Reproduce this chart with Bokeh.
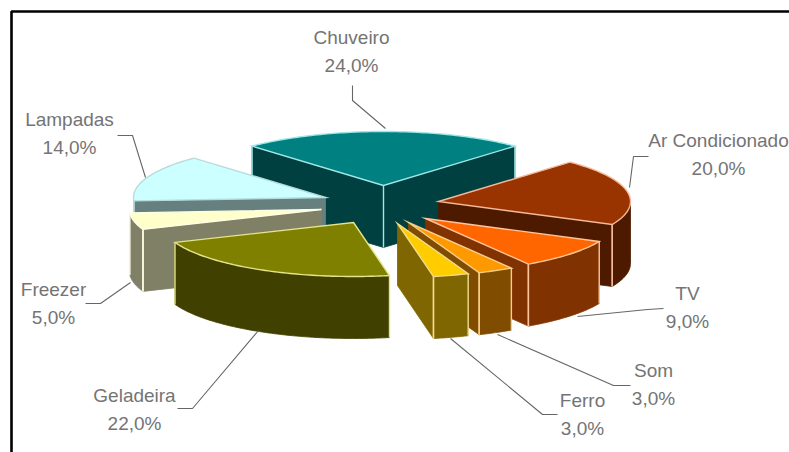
import numpy as np
from bokeh.core.properties import value
from bokeh.embed import file_html
from bokeh.models import ColumnDataSource
from bokeh.plotting import figure
from bokeh.resources import INLINE

# Household electricity use by appliance (percent)
categories = ["Chuveiro", "Ar Condicionado", "TV", "Som", "Ferro", "Geladeira", "Freezer", "Lampadas"]
shares = [24.0, 20.0, 9.0, 3.0, 3.0, 22.0, 5.0, 14.0]

top_colors = ["#008080", "#993300", "#FF6600", "#FF9900", "#FFCC00", "#808000", "#FFFFCC", "#CCFFFF"]
side_colors = ["#004040", "#4D1A00", "#803300", "#804D00", "#806600", "#404000", "#808066", "#668080"]
edge_colors = ["#9FE6E6", "#F4B89A", "#FFC49A", "#F6CE8C", "#F2DC8C", "#E4E48A", "#FFFFE6", "#B8DCDC"]

# Where each exploded slice has its tip on the page
tip_x = [383, 438, 425, 408, 397, 353, 321, 325]
tip_y = [185, 201, 218, 222, 223, 222, 209, 197]

# Painter's order: slices further back are drawn first
draw_order = [0, 7, 6, 1, 2, 3, 4, 5]

# Label centres, line spacing and leader paths, in page pixels
label_x = [351, 718, 687, 653, 582, 134, 53, 69]
label_y = [37, 140, 293, 370, 400, 395, 289, 119]
line_gap = 28
leader_x = [[352, 352, 385], [648, 633, 629], [663, 647, 577], [630, 613, 497],
            [557, 542, 450], [177, 192, 258], [85, 100, 130], [117, 132, 145]]
leader_y = [[85, 100, 128], [156, 156, 187], [308, 309, 316], [385, 385, 334],
            [414, 414, 338], [408, 408, 330], [303, 303, 282], [135, 135, 177]]

RADIUS_X = 192
RADIUS_Y = 54
DEPTH = 62
WIDTH, HEIGHT = 789, 452


def rim(cx, cy, a0, a1):
    """Points on the tilted rim between two clockwise angles, in degrees from the top."""
    steps = max(2, int(abs(a1 - a0)) + 1)
    t = np.radians(np.linspace(a0, a1, steps))
    return cx + RADIUS_X * np.sin(t), cy - RADIUS_Y * np.cos(t)


p = figure(width=WIDTH, height=HEIGHT, x_range=(0, WIDTH), y_range=(HEIGHT, 0),
           output_backend="svg", toolbar_location=None, min_border=0,
           background_fill_color="white", border_fill_color="white", outline_line_color=None)
p.axis.visible = False
p.grid.visible = False

# Frame along the top and left of the chart area
p.line([11, 11, WIDTH], [HEIGHT, 11, 11], line_color="black", line_width=2.6)

# Slice angles follow the shares; the first slice is centred on the top of the pie
edges = np.cumsum([0.0] + shares) * 3.6 - shares[0] * 1.8

for i in draw_order:
    a0, a1 = edges[i], edges[i + 1]
    cx, cy = tip_x[i], tip_y[i]
    side_xs, side_ys, edge_xs, edge_ys = [], [], [], []

    # Radial cut faces that turn toward the viewer
    for angle, visible in ((a0, np.sin(np.radians(a0)) < 0), (a1, np.sin(np.radians(a1)) > 0)):
        if visible:
            x, y = rim(cx, cy, angle, angle)
            side_xs.append([cx, x[0], x[0], cx])
            side_ys.append([cy, y[0], y[0] + DEPTH, cy + DEPTH])
            edge_xs.append([x[0], x[0]])
            edge_ys.append([y[0], y[0] + DEPTH])

    # Curved outer wall, only on the front half of the pie
    lo, hi = max(a0, 90.0), min(a1, 270.0)
    if lo < hi:
        x, y = rim(cx, cy, lo, hi)
        side_xs.append(list(x) + list(x[::-1]))
        side_ys.append(list(y) + list(y[::-1] + DEPTH))
        for a, xe, ye in ((a0, x[0], y[0]), (a1, x[-1], y[-1])):
            if 90.0 < a < 270.0:
                edge_xs.append([xe, xe])
                edge_ys.append([ye, ye + DEPTH])

    # A slice showing both cut faces has a visible edge at its tip as well
    if np.sin(np.radians(a0)) < 0 and np.sin(np.radians(a1)) > 0:
        edge_xs.append([cx, cx])
        edge_ys.append([cy, cy + DEPTH])

    if side_xs:
        p.patches(side_xs, side_ys, fill_color=side_colors[i], line_color=side_colors[i], line_width=0.8)
    if edge_xs:
        p.multi_line(edge_xs, edge_ys, line_color=edge_colors[i], line_width=1.4)

    x, y = rim(cx, cy, a0, a1)
    p.patch([cx] + list(x), [cy] + list(y), fill_color=top_colors[i],
            line_color=edge_colors[i], line_width=1.4, line_join="miter")

# Leader lines from the labels to their slices
p.multi_line(leader_x, leader_y, line_color="#666666", line_width=1.1)

# Two-line labels: name above, share below
names = ColumnDataSource(dict(x=label_x, y=label_y, text=categories))
percents = ColumnDataSource(dict(
    x=label_x,
    y=[v + line_gap for v in label_y],
    text=[f"{s:.1f}%".replace(".", ",") for s in shares],
))
for source in (names, percents):
    p.text(x="x", y="y", text="text", source=source, text_font=value("Liberation Sans"),
           text_font_size="19px", text_color="#747474", text_align="center",
           text_baseline="middle")

open("out.html", "w").write(file_html(p, INLINE))
